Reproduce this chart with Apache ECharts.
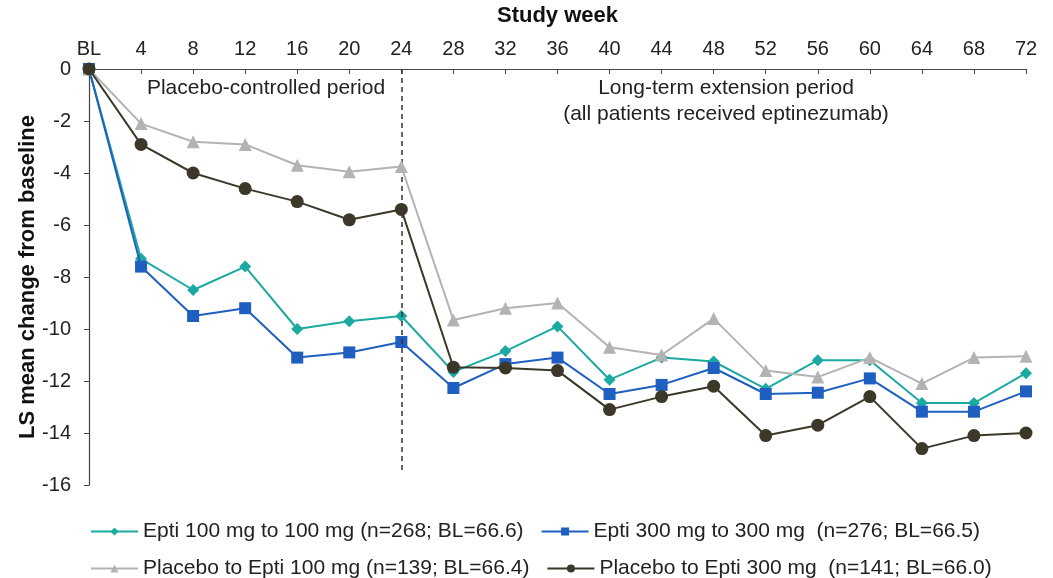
<!DOCTYPE html>
<html>
<head>
<meta charset="utf-8">
<script src="https://cdn.jsdelivr.net/npm/echarts@6/dist/echarts.min.js"></script>
<style>
html,body{margin:0;padding:0;background:#fff;}
#chart{width:1053px;height:578px;}
</style>
</head>
<body>
<div id="chart"></div>
<script>
const weeks = ['BL','4','8','12','16','20','24','28','32','36','40','44','48','52','56','60','64','68','72'];
const yTicks = [0,-2,-4,-6,-8,-10,-12,-14,-16];
const epti100 = [0,-7.3,-8.5,-7.6,-10.0,-9.7,-9.5,-11.65,-10.85,-9.9,-11.95,-11.1,-11.25,-12.3,-11.2,-11.2,-12.85,-12.85,-11.7];
const epti300 = [0,-7.6,-9.5,-9.2,-11.1,-10.9,-10.5,-12.27,-11.35,-11.1,-12.5,-12.15,-11.5,-12.5,-12.45,-11.9,-13.18,-13.18,-12.4];
const placebo100 = [0,-2.1,-2.8,-2.9,-3.7,-3.95,-3.75,-9.65,-9.2,-9.0,-10.7,-11.0,-9.6,-11.6,-11.85,-11.1,-12.1,-11.1,-11.05];
const placebo300 = [0,-2.9,-4.0,-4.6,-5.1,-5.8,-5.4,-11.47,-11.5,-11.6,-13.1,-12.6,-12.2,-14.1,-13.7,-12.6,-14.6,-14.1,-14.0];
const names = [
  'Epti 100 mg to 100 mg (n=268; BL=66.6)',
  'Epti 300 mg to 300 mg  (n=276; BL=66.5)',
  'Placebo to Epti 100 mg (n=139; BL=66.4)',
  'Placebo to Epti 300 mg  (n=141; BL=66.0)'
];
const dividerWeek = '24';
const dividerBottom = -15.5;

const FONT = '"Liberation Sans", Arial, sans-serif';
const colors = ['#1ba9a1', '#1f5fbf', '#b3b3b3', '#3b3829'];

function mkSeries(i, data, symbol, size) {
  return {
    name: names[i],
    type: 'line',
    data: data,
    symbol: symbol,
    symbolSize: size,
    showSymbol: true,
    z: 3 + i,
    lineStyle: { color: colors[i], width: 2 },
    itemStyle: { color: colors[i] },
    emphasis: { disabled: true }
  };
}

const series = [
  mkSeries(0, epti100, 'diamond', 12),
  mkSeries(1, epti300, 'rect', 12),
  mkSeries(2, placebo100, 'triangle', 13),
  mkSeries(3, placebo300, 'circle', 13)
];
series[0].markLine = {
  silent: true,
  symbol: ['none', 'none'],
  label: { show: false },
  lineStyle: { type: [5, 4], color: '#333', width: 1.5 },
  data: [[{ coord: [dividerWeek, 0] }, { coord: [dividerWeek, dividerBottom] }]]
};

const legendText = { fontFamily: FONT, fontSize: 21, color: '#222' };

const chart = echarts.init(document.getElementById('chart'), null, { renderer: 'canvas' });
chart.setOption({
  animation: false,
  backgroundColor: '#fff',
  color: colors,
  grid: { left: 89, right: 27, top: 68, bottom: 93 },
  xAxis: {
    type: 'category',
    position: 'top',
    data: weeks,
    boundaryGap: false,
    name: 'Study week',
    nameLocation: 'middle',
    nameGap: 42,
    nameTextStyle: { fontFamily: FONT, fontSize: 22, fontWeight: 'bold', color: '#111' },
    axisLine: { lineStyle: { color: '#444', width: 1.2 } },
    axisTick: { inside: true, length: 5, lineStyle: { color: '#444' } },
    axisLabel: { fontFamily: FONT, fontSize: 20, color: '#222', margin: 10, interval: 0 },
    splitLine: { show: false }
  },
  yAxis: {
    type: 'value',
    min: -16,
    max: 0,
    interval: 2,
    name: 'LS mean change from baseline',
    nameLocation: 'middle',
    nameGap: 50,
    nameMoveOverlap: false,
    nameTextStyle: { fontFamily: FONT, fontSize: 22, fontWeight: 'bold', color: '#111' },
    axisLine: { show: true, lineStyle: { color: '#444', width: 1.2 } },
    axisTick: { show: true, length: 5, lineStyle: { color: '#444' } },
    axisLabel: {
      fontFamily: FONT, fontSize: 20, color: '#222', margin: 18,
      formatter: function (v) { return yTicks.indexOf(v) >= 0 ? String(v) : ''; }
    },
    splitLine: { show: false }
  },
  legend: [
    {
      data: [names[0], names[1]],
      left: 85, top: 516,
      itemWidth: 47, itemHeight: 10, itemGap: 17,
      textStyle: legendText
    },
    {
      data: [names[2], names[3]],
      left: 85, top: 553,
      itemWidth: 47, itemHeight: 10, itemGap: 17,
      textStyle: legendText
    }
  ],
  graphic: [
    { type: 'text', x: 266, y: 88, style: { text: 'Placebo-controlled period', font: '21px ' + FONT, fill: '#222', align: 'center', verticalAlign: 'middle' } },
    { type: 'text', x: 726, y: 88, style: { text: 'Long-term extension period', font: '21px ' + FONT, fill: '#222', align: 'center', verticalAlign: 'middle' } },
    { type: 'text', x: 726, y: 114, style: { text: '(all patients received eptinezumab)', font: '21px ' + FONT, fill: '#222', align: 'center', verticalAlign: 'middle' } }
  ],
  series: series
});
</script>
</body>
</html>
